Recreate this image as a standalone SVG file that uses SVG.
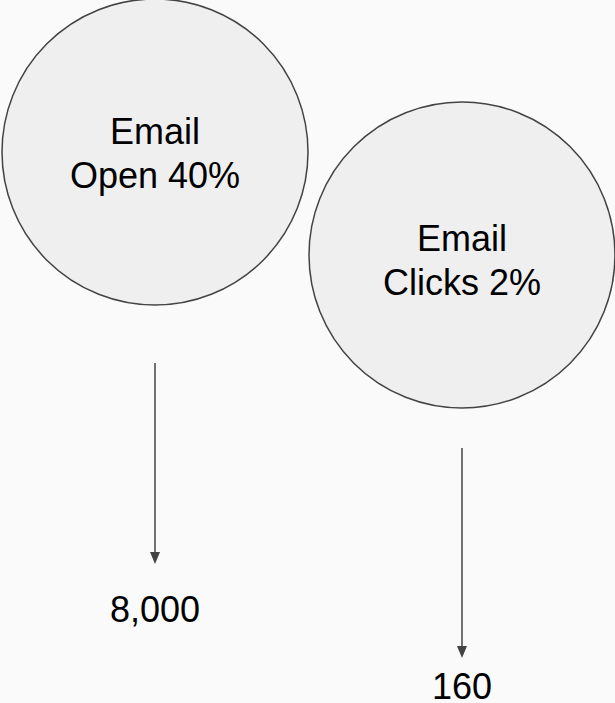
<svg xmlns="http://www.w3.org/2000/svg" width="615" height="703" viewBox="0 0 615 703">
  <style>
    .node { fill: #efefef; stroke: #434343; stroke-width: 1.5; }
    .label { font-family: "Liberation Sans", Arial, sans-serif; font-size: 36px; fill: #000; text-anchor: middle; }
    .edge { stroke: #434343; stroke-width: 1.5; fill: none; }
  </style>
  <defs>
    <!-- arrowhead drawn along +x so orient="auto" follows the line direction -->
    <marker id="arrow" viewBox="0 0 12 10" refX="0" refY="5" markerWidth="12" markerHeight="10" markerUnits="userSpaceOnUse" orient="auto">
      <path d="M0,0 L12,5 L0,10 Z" fill="#434343"/>
    </marker>
  </defs>
  <rect width="615" height="703" fill="#fafafa"/>

  <g id="open">
    <circle class="node" cx="155" cy="152" r="153"/>
    <text class="label" x="155" y="144">Email</text>
    <text class="label" x="155" y="188">Open 40%</text>
  </g>

  <g id="clicks">
    <circle class="node" cx="462" cy="255" r="153"/>
    <text class="label" x="462" y="251">Email</text>
    <text class="label" x="462" y="295">Clicks 2%</text>
  </g>

  <g id="opens-count">
    <text class="label" x="155" y="622">8,000</text>
  </g>

  <g id="clicks-count">
    <text class="label" x="462" y="699">160</text>
  </g>

  <g id="connectors">
    <line class="edge" x1="155" y1="363" x2="155" y2="552" marker-end="url(#arrow)"/>
    <line class="edge" x1="462" y1="448" x2="462" y2="646" marker-end="url(#arrow)"/>
  </g>
</svg>
